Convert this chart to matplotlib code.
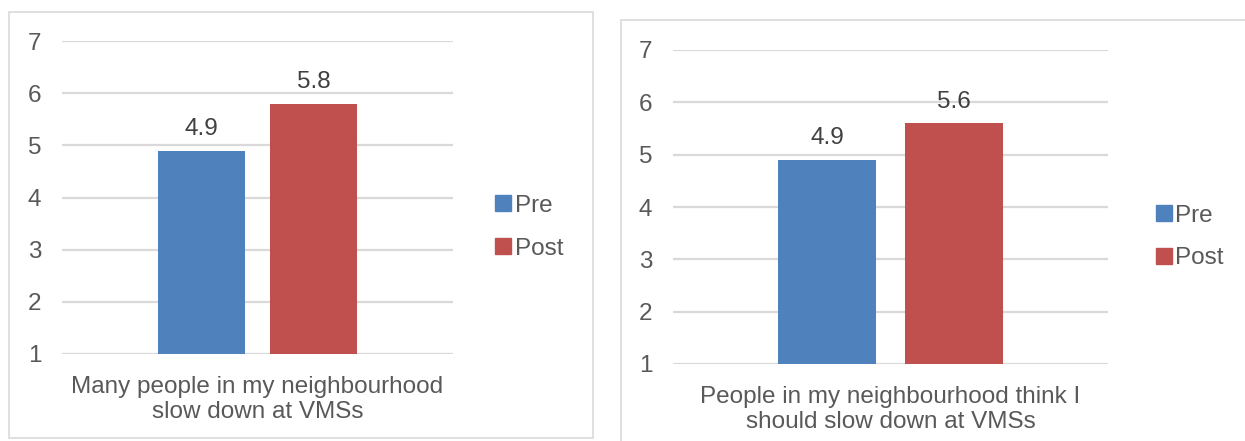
import matplotlib.pyplot as plt
from matplotlib.patches import Rectangle, Patch

plt.rcParams['font.family'] = ['Liberation Sans', 'DejaVu Sans']

# survey means, 1-7 agreement scale
series = ['Pre', 'Post']
colors = ['#4f81bd', '#c0504d']
left_cat = 'Many people in my neighbourhood\nslow down at VMSs'
left_vals = [4.9, 5.8]
right_cat = 'People in my neighbourhood think I\nshould slow down at VMSs'
right_vals = [4.9, 5.6]
yticks = [1, 2, 3, 4, 5, 6, 7]

W, H = 1245, 441
txt = '#595959'
grid = '#d9d9d9'
fs = 17.5

fig = plt.figure(figsize=(W / 100, H / 100), dpi=100)


def px(x0, y0, x1, y1):
    # pixel box (top-left origin) -> figure fraction
    return [x0 / W, 1 - y1 / H, (x1 - x0) / W, (y1 - y0) / H]


def panel(box, frame, cat, vals, offs, width, legend_at):
    # outer border of the chart
    fx = px(*frame)
    fig.patches.append(Rectangle((fx[0], fx[1]), fx[2], fx[3], transform=fig.transFigure,
                                 fill=False, edgecolor='#d9d9d9', linewidth=1.2))
    ax = fig.add_axes(px(*box))
    for i, v in enumerate(vals):
        ax.bar(offs[i], v - 1, bottom=1, width=width, color=colors[i], zorder=3)
        ax.text(offs[i], v + 0.2, f'{v:.1f}', ha='center', va='bottom',
                fontsize=fs, color='#404040')
    ax.set_xlim(-0.5, 0.5)
    ax.set_ylim(1, 7)
    ax.set_yticks(yticks)
    ax.set_yticklabels([str(t) for t in yticks], fontsize=fs, color=txt)
    ax.set_xticks([0])
    ax.set_xticklabels([cat], fontsize=fs, color=txt, linespacing=1.15)
    ax.tick_params(axis='x', length=0, pad=16)
    ax.tick_params(axis='y', length=0, pad=15)
    ax.yaxis.grid(True, color=grid, linewidth=1.6, zorder=0)
    ax.set_axisbelow(True)
    for s in ax.spines.values():
        s.set_visible(False)
    handles = [Patch(color=c, label=s) for c, s in zip(colors, series)]
    ax.legend(handles=handles, loc='center left', bbox_to_anchor=legend_at,
              frameon=False, fontsize=fs, handlelength=0.65, handleheight=0.65,
              handletextpad=0.15, labelspacing=0.85, labelcolor=txt)
    return ax


panel((62, 41, 453, 354), (9, 12, 593, 438), left_cat, left_vals,
      [-0.143, 0.143], 0.223, (1.052, 0.405))
panel((673, 50, 1108, 364), (621, 20, 1250, 445), right_cat, right_vals,
      [-0.145, 0.145], 0.225, (1.06, 0.405))

fig.savefig('out.png', dpi=100)
